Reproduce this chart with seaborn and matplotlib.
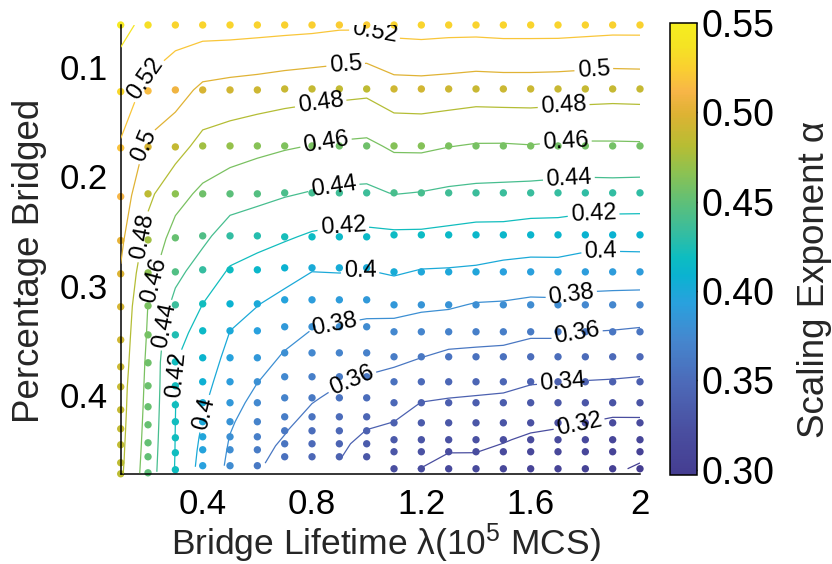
import numpy as np
import pandas as pd
import matplotlib
matplotlib.use("Agg")
import matplotlib.pyplot as plt
import matplotlib.transforms as mtransforms
from matplotlib.colors import LinearSegmentedColormap, Normalize
from matplotlib.cm import ScalarMappable
import seaborn as sns

sns.set_style("white")
plt.rcParams["font.family"] = ["Liberation Sans", "DejaVu Sans"]
plt.rcParams["mathtext.fontset"] = "custom"
plt.rcParams["mathtext.rm"] = "Liberation Sans"
plt.rcParams["mathtext.it"] = "Liberation Sans:italic"
plt.rcParams["mathtext.bf"] = "Liberation Sans:bold"

# bridge lifetime lambda (10^5 MCS), one column of runs per value
lifetimes = [0.1, 0.2, 0.3, 0.4, 0.5, 0.6, 0.7, 0.8, 0.9, 1.0,
             1.1, 1.2, 1.3, 1.4, 1.5, 1.6, 1.7, 1.8, 1.9, 2.0]

# measured fraction of bridged sites for the 15 runs of each lifetime
bridged_01 = [0.0686, 0.1297, 0.1812, 0.2258, 0.2661, 0.2966, 0.3268, 0.3571,
              0.3818, 0.4001, 0.4212, 0.4386, 0.4532, 0.4697, 0.4798]
bridged_02 = [0.0686, 0.1290, 0.1803, 0.2233, 0.2655, 0.2957, 0.3259, 0.3525,
              0.3781, 0.3992, 0.4184, 0.4349, 0.4514, 0.4642, 0.4789]
bridged_03 = [0.0686, 0.1281, 0.1803, 0.2233, 0.2636, 0.2948, 0.3250, 0.3525,
              0.3772, 0.3992, 0.4166, 0.4321, 0.4468, 0.4605, 0.4761]
bridged_short = [0.0686, 0.1281, 0.1794, 0.2233, 0.2618, 0.2929, 0.3241, 0.3488,
                 0.3735, 0.3955, 0.4147, 0.4321, 0.4459, 0.4578, 0.4724]
bridged_mid = [0.0686, 0.1272, 0.1794, 0.2224, 0.2627, 0.2911, 0.3204, 0.3451,
               0.3690, 0.3909, 0.4102, 0.4276, 0.4404, 0.4523, 0.4642]
bridged_long = [0.0686, 0.1272, 0.1794, 0.2224, 0.2609, 0.2948, 0.3250, 0.3497,
                0.3726, 0.3955, 0.4147, 0.4331, 0.4486, 0.4596, 0.4752]

# scaling exponent alpha for each lifetime, same run order as above
alpha_010 = [0.545, 0.530, 0.518, 0.5105, 0.5035, 0.4985, 0.495, 0.492, 0.490, 0.488, 0.487, 0.486, 0.485, 0.484, 0.483]
alpha_020 = [0.535, 0.515, 0.4964, 0.4842, 0.4733, 0.466, 0.4597, 0.458, 0.456, 0.455, 0.454, 0.453, 0.452, 0.451, 0.450]
alpha_030 = [0.528, 0.5079, 0.4876, 0.4668, 0.4531, 0.4448, 0.435, 0.4245, 0.4205, 0.4205, 0.4202, 0.420, 0.4197, 0.4195, 0.419]
alpha_040 = [0.528, 0.496, 0.4736, 0.4561, 0.4442, 0.4325, 0.420, 0.4151, 0.4104, 0.4063, 0.4026, 0.3995, 0.397, 0.395, 0.393]
alpha_050 = [0.528, 0.4933, 0.4692, 0.4489, 0.4315, 0.4185, 0.4085, 0.400, 0.3948, 0.3902, 0.3862, 0.3823, 0.3795, 0.378, 0.3765]
alpha_060 = [0.527, 0.4915, 0.465, 0.4455, 0.4271, 0.413, 0.4007, 0.3933, 0.3864, 0.3803, 0.375, 0.370, 0.367, 0.364, 0.362]
alpha_070 = [0.526, 0.4895, 0.4619, 0.442, 0.4223, 0.4078, 0.3958, 0.3873, 0.3793, 0.3741, 0.3693, 0.3648, 0.3609, 0.358, 0.355]
alpha_080 = [0.525, 0.4876, 0.4595, 0.439, 0.4173, 0.4014, 0.390, 0.3807, 0.3734, 0.3671, 0.3616, 0.3563, 0.352, 0.349, 0.346]
alpha_090 = [0.523, 0.4861, 0.4571, 0.4368, 0.415, 0.4021, 0.3892, 0.3787, 0.3703, 0.3626, 0.3563, 0.3509, 0.3469, 0.3431, 0.341]
alpha_100 = [0.523, 0.4846, 0.4559, 0.4362, 0.4153, 0.4009, 0.3875, 0.3768, 0.3677, 0.3593, 0.3516, 0.3447, 0.3396, 0.3355, 0.331]
alpha_110 = [0.527, 0.4923, 0.4631, 0.4409, 0.4171, 0.402, 0.386, 0.374, 0.364, 0.3545, 0.3469, 0.3396, 0.3335, 0.3287, 0.322]
alpha_120 = [0.528, 0.4928, 0.4636, 0.4394, 0.417, 0.3986, 0.3833, 0.3713, 0.3604, 0.3491, 0.3397, 0.3336, 0.3285, 0.3248, 0.3197]
alpha_130 = [0.527, 0.4916, 0.4606, 0.4368, 0.4153, 0.3981, 0.3824, 0.3684, 0.3564, 0.3464, 0.3382, 0.3309, 0.3247, 0.3204, 0.3145]
alpha_140 = [0.527, 0.4897, 0.4586, 0.4353, 0.4133, 0.3971, 0.3787, 0.3667, 0.3558, 0.3454, 0.3372, 0.3303, 0.3245, 0.3203, 0.315]
alpha_150 = [0.528, 0.4903, 0.4585, 0.4346, 0.4133, 0.3938, 0.3782, 0.3659, 0.355, 0.3446, 0.336, 0.328, 0.3212, 0.317, 0.312]
alpha_160 = [0.528, 0.4903, 0.4594, 0.4335, 0.4113, 0.3925, 0.3761, 0.3629, 0.3519, 0.3413, 0.3325, 0.3242, 0.3172, 0.3128, 0.3065]
alpha_170 = [0.528, 0.4897, 0.4578, 0.4325, 0.4113, 0.3927, 0.3765, 0.363, 0.3516, 0.3404, 0.3309, 0.3218, 0.3165, 0.3122, 0.306]
alpha_180 = [0.527, 0.4887, 0.4573, 0.4314, 0.4087, 0.390, 0.3735, 0.360, 0.3498, 0.3395, 0.3295, 0.320, 0.3145, 0.311, 0.3055]
alpha_190 = [0.526, 0.4878, 0.4574, 0.4318, 0.4084, 0.3895, 0.3728, 0.3592, 0.3492, 0.3389, 0.3272, 0.3173, 0.3106, 0.307, 0.303]
alpha_200 = [0.526, 0.4883, 0.4577, 0.4311, 0.4087, 0.3897, 0.372, 0.3577, 0.3481, 0.3379, 0.3272, 0.3174, 0.310, 0.3048, 0.2975]

labelled_levels = [0.32, 0.34, 0.36, 0.38, 0.40, 0.42, 0.44, 0.46, 0.48, 0.50, 0.52]
edge_levels = [0.30, 0.54]
cbar_ticks = [0.30, 0.35, 0.40, 0.45, 0.50, 0.55]
x_ticks = [0.2, 0.4, 0.6, 0.8, 1.0, 1.2, 1.4, 1.6, 1.8, 2.0]
x_ticklabels = ["", "0.4", "", "0.8", "", "1.2", "", "1.6", "", "2"]
y_ticks = [0.10, 0.15, 0.20, 0.25, 0.30, 0.35, 0.40, 0.45]
y_ticklabels = ["0.1", "", "0.2", "", "0.3", "", "0.4", ""]

# inline contour label spots (lambda, fraction bridged)
label_spots = [
    (0.200, 0.119), (0.182, 0.1786), (0.182, 0.2627), (0.218, 0.302),
    (0.262, 0.3434), (0.310, 0.389), (0.383, 0.4231),
    (1.032, 0.0732), (0.922, 0.1006), (0.830, 0.1373), (0.848, 0.1721),
    (0.878, 0.2152), (0.914, 0.249), (0.977, 0.2948), (0.882, 0.3444),
    (0.948, 0.3964),
    (1.830, 0.1052), (1.720, 0.1401), (1.728, 0.1740), (1.739, 0.2060),
    (1.830, 0.2399), (1.856, 0.2746), (1.747, 0.3140), (1.772, 0.3543),
    (1.717, 0.3937), (1.776, 0.4330),
]

# parula-style colour map, as printed (muted blues)
cmap_nodes = [
    (0.00, (0.27, 0.24, 0.57)), (0.10, (0.29, 0.31, 0.63)),
    (0.20, (0.30, 0.41, 0.72)), (0.30, (0.27, 0.53, 0.81)),
    (0.38, (0.16, 0.63, 0.87)), (0.44, (0.04, 0.70, 0.82)),
    (0.48, (0.05, 0.74, 0.76)), (0.54, (0.22, 0.74, 0.62)),
    (0.60, (0.36, 0.75, 0.48)), (0.67, (0.55, 0.76, 0.32)),
    (0.73, (0.72, 0.74, 0.20)), (0.80, (0.87, 0.70, 0.20)),
    (0.85, (0.97, 0.71, 0.28)), (0.90, (0.98, 0.81, 0.19)),
    (0.95, (0.96, 0.89, 0.14)), (1.00, (0.96, 0.93, 0.12)),
]
parula = LinearSegmentedColormap.from_list("parula", cmap_nodes)
norm = Normalize(vmin=0.297, vmax=0.55)

bridged_by_col = ([bridged_01, bridged_02, bridged_03] + [bridged_short] * 3
                  + [bridged_mid] * 4 + [bridged_long] * 10)
alpha_by_col = [alpha_010, alpha_020, alpha_030, alpha_040, alpha_050, alpha_060,
                alpha_070, alpha_080, alpha_090, alpha_100, alpha_110, alpha_120,
                alpha_130, alpha_140, alpha_150, alpha_160, alpha_170, alpha_180,
                alpha_190, alpha_200]

Y = np.column_stack(bridged_by_col)
Z = np.column_stack(alpha_by_col)
X = np.tile(np.array(lifetimes), (Y.shape[0], 1))

df = pd.DataFrame({"lifetime": X.ravel(), "bridged": Y.ravel(), "alpha": Z.ravel()})

W, H = 832, 564
fig = plt.figure(figsize=(W / 100, H / 100), dpi=100)
ax = fig.add_axes([120.7 / W, 1 - 474 / H, (640 - 120.7) / W, (474 - 25) / H])
cax = fig.add_axes([670 / W, 1 - 475 / H, 27 / W, 452 / H])

sns.scatterplot(data=df, x="lifetime", y="bridged", hue="alpha", palette=parula,
                hue_norm=norm, s=28, linewidth=0, legend=False, ax=ax,
                clip_on=False, zorder=2)

ax.contour(X, Y, Z, levels=edge_levels, cmap=parula, norm=norm,
           linewidths=0.9, zorder=3)
cs = ax.contour(X, Y, Z, levels=labelled_levels, cmap=parula, norm=norm,
                linewidths=0.9, zorder=3)
labels = ax.clabel(cs, manual=label_spots, inline=True, inline_spacing=3,
                   fontsize=17, colors="k", fmt=lambda v: f"{v:.2f}".rstrip("0"))
# the y axis runs downwards, so turn each label to follow its line on screen
for t in labels:
    r = ((t.get_rotation() + 90) % 180) - 90
    t.set_rotation(-r)

ax.set_xlim(0.1, 2.0)
ax.set_ylim(0.48, min(bridged_01))
ax.set_xlabel("")
ax.set_ylabel("")
for side in ("top", "right"):
    ax.spines[side].set_visible(False)
for side in ("left", "bottom"):
    ax.spines[side].set_linewidth(1.1)
    ax.spines[side].set_color("black")

ax.set_xticks(x_ticks)
ax.set_xticklabels(x_ticklabels)
ax.set_yticks(y_ticks)
ax.set_yticklabels(y_ticklabels)
ax.tick_params(axis="both", direction="in", length=5, width=1.0, colors="black",
               labelsize=25)
ax.tick_params(axis="x", pad=10)
ax.tick_params(axis="y", pad=9)
shift = mtransforms.ScaledTranslation(0, -0.08, fig.dpi_scale_trans)
for lab in ax.get_yticklabels():
    lab.set_transform(lab.get_transform() + shift)

cb = fig.colorbar(ScalarMappable(norm=norm, cmap=parula), cax=cax)
cb.set_ticks(cbar_ticks)
cb.set_ticklabels([f"{t:.2f}" for t in cbar_ticks])
cb.outline.set_linewidth(1.1)
cb.outline.set_edgecolor("black")
cax.tick_params(direction="in", length=5, width=1.0, labelsize=27, pad=3,
                colors="black")

fig.text(30 / W, 1 - 261 / H, "Percentage Bridged", rotation=90,
         ha="center", va="center", fontsize=26.5)
fig.text(386 / W, 1 - 555 / H, r"Bridge Lifetime λ(10$^{5}$ MCS)",
         ha="center", va="baseline", fontsize=25.5)
fig.text(815 / W, 1 - 279 / H, "Scaling Exponent α", rotation=90,
         ha="center", va="center", fontsize=26.5)

fig.savefig("out.png", dpi=100, facecolor="white")
